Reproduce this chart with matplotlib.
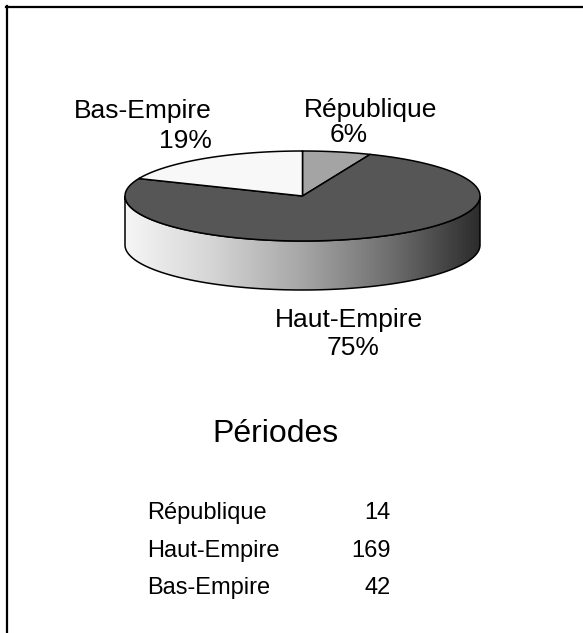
import numpy as np
import matplotlib.pyplot as plt
from matplotlib.patches import Polygon
from matplotlib.lines import Line2D
from matplotlib.colors import LinearSegmentedColormap

# ---- data ----
categories = ["République", "Haut-Empire", "Bas-Empire"]
values = [14, 169, 42]
title = "Périodes"

# ---- style ----
top_colors = ["#a4a4a4", "#565656", "#f8f8f8"]
FONT = "Liberation Sans"

W, H = 583, 633
fig = plt.figure(figsize=(W / 100, H / 100), dpi=100)
ax = fig.add_axes([0, 0, 1, 1])
ax.set_xlim(0, W)
ax.set_ylim(H, 0)
ax.axis("off")

# pie geometry (pixel-like layout coordinates)
cx, cy, rx, ry, depth = 302.5, 196, 177.5, 45, 49

total = sum(values)
fracs = [v / total for v in values]
bounds = []
a = 90.0
for f in fracs:
    bounds.append((a, a - 360 * f))
    a -= 360 * f


def arc(a1, a2, dy=0, n=200):
    th = np.radians(np.linspace(a1, a2, n))
    return np.column_stack([cx + rx * np.cos(th), cy + dy - ry * np.sin(th)])


side_cmap = LinearSegmentedColormap.from_list(
    "side", ["#f6f6f6", "#d4d4d4", "#a6a6a6", "#6e6e6e", "#2c2c2c"])
grad = np.linspace(0, 1, 256).reshape(1, -1)

# side faces (front half: angles in [-180, 0] modulo 360)
for (a1, a2) in bounds:
    hi, lo = a1, a2
    for k in (-1, 0, 1):
        f_lo, f_hi = -180 + 360 * k, 0 + 360 * k
        s_lo, s_hi = max(lo, f_lo), min(hi, f_hi)
        if s_hi - s_lo <= 1e-6:
            continue
        top = arc(s_lo, s_hi)
        bot = arc(s_hi, s_lo, dy=depth)
        pts = np.vstack([top, bot])
        poly = Polygon(pts, closed=True, facecolor="none", edgecolor="black",
                       lw=1.1, zorder=3)
        ax.add_patch(poly)
        im = ax.imshow(grad, cmap=side_cmap, aspect="auto",
                       extent=(cx - rx, cx + rx, cy + depth + ry, cy - ry),
                       zorder=2, interpolation="bilinear")
        im.set_clip_path(poly)

# top faces
for (a1, a2), col in zip(bounds, top_colors):
    pts = np.vstack([[cx, cy], arc(a1, a2)])
    ax.add_patch(Polygon(pts, closed=True, facecolor=col, edgecolor="black",
                         lw=1.1, zorder=4, joinstyle="round"))

ax.set_xlim(0, W)
ax.set_ylim(H, 0)

# pie labels: (name x, name baseline, pct x, pct baseline)
label_pos = [(371, 117, 349, 142), (349, 327, 353, 355), (143, 118, 185, 148)]
for name, f, (nx, ny, px, py) in zip(categories, fracs, label_pos):
    ax.text(nx, ny, name, ha="center", va="baseline", fontsize=19,
            family=FONT, color="black", zorder=5)
    ax.text(px, py, f"{round(100 * f)}%", ha="center", va="baseline",
            fontsize=19, family=FONT, color="black", zorder=5)

# title
ax.text(275, 442, title, ha="center", va="baseline", fontsize=23,
        family=FONT, color="black")

# table
row_y = [519, 557, 594]
for name, v, y in zip(categories, values, row_y):
    ax.text(147, y, name, ha="left", va="baseline", fontsize=17, family=FONT)
    ax.text(391, y, str(v), ha="right", va="baseline", fontsize=17, family=FONT)

# frame (top and left edges visible)
ax.add_line(Line2D([6.5, 6.5], [6, H], color="black", lw=1.6))
ax.add_line(Line2D([6, W], [7, 7], color="black", lw=1.6))

fig.savefig("out.png", dpi=100)
